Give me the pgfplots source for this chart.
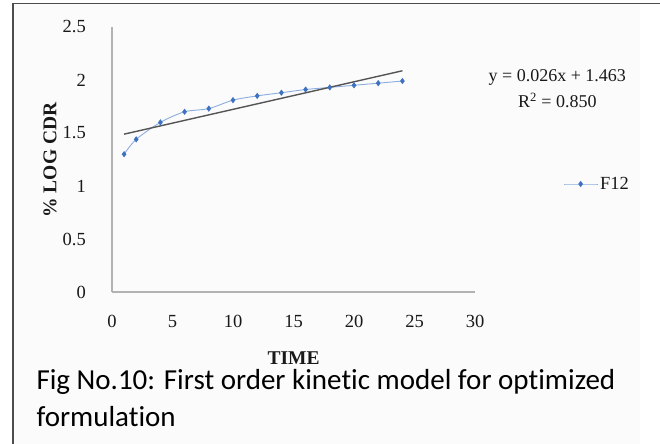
\documentclass[border=0pt]{standalone}
\usepackage{fontspec}
\setmainfont{Liberation Serif}
\newfontfamily\capfont[Ligatures=NoCommon]{Carlito}
\usepackage{pgfplots}
\pgfplotsset{compat=1.18}
\definecolor{serblue}{HTML}{3E72C0}
\definecolor{serline}{HTML}{8AAEE0}
\definecolor{trend}{HTML}{555555}
\begin{document}
\begin{tikzpicture}[x=1bp,y=1bp]
\useasboundingbox (0,0) rectangle (660,444);
\fill[black!1.5] (14,0) rectangle (640,439.5);
\draw[line width=1.8bp, black!70] (13,0) -- (13,440.5) -- (660,440.5);
\begin{axis}[
  at={(112bp,152bp)}, anchor=south west,
  scale only axis, width=363bp, height=265bp,
  xmin=0, xmax=30, ymin=0, ymax=2.5,
  axis x line*=bottom, axis y line*=left,
  axis line style={black!30, line width=1.2bp},
  xtick={0,5,...,30}, ytick={0,0.5,1,1.5,2,2.5},
  major tick length=0pt,
  /pgf/number format/assume math mode=true,
  tick label style={font=\fontsize{18.5bp}{20bp}\selectfont, inner sep=0pt, text=black!90},
  yticklabel style={anchor=east, xshift=-26bp},
  xticklabel style={anchor=north, yshift=-23bp},
  xlabel={\bfseries TIME},
  ylabel={\bfseries \% LOG CDR},
  label style={font=\fontsize{19.5bp}{20bp}\selectfont, text=black!90},
  xlabel style={at={(axis cs:15,-0.623)}, anchor=center},
  ylabel style={at={(axis cs:-5.12,1.245)}, anchor=center, rotate=0},
  clip=false,
  legend style={at={(rel axis cs:1.2424,0.4075)}, anchor=west, draw=none, fill=none,
    font=\fontsize{18.5bp}{20bp}\selectfont, inner sep=0pt, text=black!90,
    legend cell align=left},
  legend image code/.code={
    \draw[#1, mark repeat=2, mark phase=2] plot coordinates {(0bp,0bp) (17bp,0bp) (34bp,0bp)};},
]
\addplot[serline, line width=0.9bp, smooth, mark=diamond*, mark size=2.4bp,
  mark options={serblue, fill=serblue}] coordinates {
  (1,1.30) (2,1.44) (4,1.60) (6,1.70) (8,1.73) (10,1.81) (12,1.85)
  (14,1.88) (16,1.91) (18,1.93) (20,1.95) (22,1.97) (24,1.99)};
\addlegendentry{F12}
\addplot[trend, line width=1.4bp, forget plot] coordinates {(1,1.489) (24,2.087)};
\node[font=\fontsize{18bp}{20bp}\selectfont, text=black!90] at (axis cs:36.8,2.02) {y = 0.026x + 1.463};
\node[font=\fontsize{18bp}{20bp}\selectfont, text=black!90] at (axis cs:36.8,1.81) {R\textsuperscript{2} = 0.850};
\end{axis}
\node[anchor=base west, font=\capfont\fontsize{29bp}{35bp}\selectfont] at (33,54) {Fig No.10: First order kinetic model for optimized};
\node[anchor=base west, font=\capfont\fontsize{29bp}{35bp}\selectfont] at (33,17) {formulation};
\end{tikzpicture}
\end{document}
